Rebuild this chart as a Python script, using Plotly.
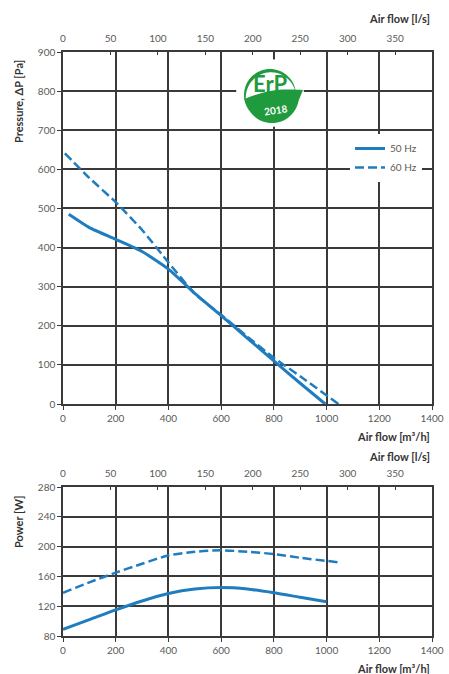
import math
import plotly.graph_objects as go

# ---------------- data ----------------
flow_p50 = [22, 100, 200, 300, 400, 500, 600, 700, 800, 900, 995]
pres_50 = [485, 451, 421, 390, 345, 283, 226, 168, 110, 53, 0]
flow_p60 = [7, 100, 200, 300, 400, 500, 600, 700, 800, 900, 1045]
pres_60 = [641, 578, 516, 445, 362, 282, 228, 172, 118, 71, 0]

flow_w50 = [0, 100, 200, 300, 400, 500, 600, 700, 800, 900, 1000]
power_50 = [89, 102, 115, 127, 137, 143, 145, 143, 138, 132, 126]
flow_w60 = [0, 100, 200, 300, 400, 500, 600, 700, 800, 900, 1045]
power_60 = [138, 152, 165, 177, 188, 193, 195, 193, 190, 185, 179]

m3h_ticks = [0, 200, 400, 600, 800, 1000, 1200, 1400]
ls_ticks = [0, 50, 100, 150, 200, 250, 300, 350]
pa_ticks = [0, 100, 200, 300, 400, 500, 600, 700, 800, 900]
w_ticks = [80, 120, 160, 200, 240, 280]
series_names = ["50 Hz", "60 Hz"]

# ---------------- style ----------------
W, H = 449, 674
BLUE = "#1f7cbf"
GRID = "#3a3a3a"
TICKC = "#5a5a5a"
TITLEC = "#333333"
FONT = "Lato"
GREEN = "#1f9a3c"
DASH = "9px,4px"


def X(px):
    return px / W


def Y(py):
    return 1 - py / H


fig = go.Figure()

fig.add_trace(go.Scatter(x=flow_p50, y=pres_50, name=series_names[0], mode="lines",
                         line=dict(color=BLUE, width=3, shape="spline", smoothing=0.5),
                         xaxis="x", yaxis="y"))
fig.add_trace(go.Scatter(x=flow_p60, y=pres_60, name=series_names[1], mode="lines",
                         line=dict(color=BLUE, width=2.5, dash=DASH, shape="spline", smoothing=0.5),
                         xaxis="x", yaxis="y"))
fig.add_trace(go.Scatter(x=flow_w50, y=power_50, name=series_names[0], mode="lines",
                         line=dict(color=BLUE, width=3, shape="spline", smoothing=0.8),
                         xaxis="x2", yaxis="y2", showlegend=False))
fig.add_trace(go.Scatter(x=flow_w60, y=power_60, name=series_names[1], mode="lines",
                         line=dict(color=BLUE, width=2.5, dash=DASH, shape="spline", smoothing=0.8),
                         xaxis="x2", yaxis="y2", showlegend=False))
# empty traces so the secondary (l/s) axes are drawn
fig.add_trace(go.Scatter(x=ls_ticks, y=[None] * len(ls_ticks), mode="lines", showlegend=False,
                         hoverinfo="skip", xaxis="x3", yaxis="y"))
fig.add_trace(go.Scatter(x=ls_ticks, y=[None] * len(ls_ticks), mode="lines", showlegend=False,
                         hoverinfo="skip", xaxis="x4", yaxis="y2"))

dom_x = [X(63), X(432)]
dom_top = [Y(404), Y(52)]
dom_bot = [Y(636), Y(487)]

common_x = dict(range=[0, 1400], tickvals=m3h_ticks, showgrid=True, gridcolor=GRID, gridwidth=1.5,
                showline=True, linecolor=GRID, linewidth=1.5, mirror=True, zeroline=False,
                ticks="outside", ticklen=4, tickcolor=GRID,
                tickfont=dict(family=FONT, size=10, color=TICKC), fixedrange=True)
common_y = dict(showgrid=True, gridcolor=GRID, gridwidth=1.5,
                showline=True, linecolor=GRID, linewidth=1.5, mirror=True, zeroline=False,
                ticks="outside", ticklen=4, tickcolor=GRID,
                tickfont=dict(family=FONT, size=10, color=TICKC), fixedrange=True)
top_x = dict(range=[0, 1400 / 3.6], tickvals=ls_ticks, showgrid=False, side="top",
             ticks="inside", ticklen=3, tickcolor=GRID, showline=False, zeroline=False,
             ticklabelstandoff=7,
             tickfont=dict(family=FONT, size=10, color=TICKC), fixedrange=True)

fig.update_layout(
    width=W, height=H, margin=dict(l=0, r=0, t=0, b=0, autoexpand=False),
    paper_bgcolor="white", plot_bgcolor="white",
    xaxis=dict(domain=dom_x, anchor="y", **common_x),
    yaxis=dict(domain=dom_top, anchor="x", range=[0, 900], tickvals=pa_ticks, **common_y),
    xaxis2=dict(domain=dom_x, anchor="y2", **common_x),
    yaxis2=dict(domain=dom_bot, anchor="x2", range=[80, 280], tickvals=w_ticks, **common_y),
    xaxis3=dict(domain=dom_x, anchor="y", overlaying="x", **top_x),
    xaxis4=dict(domain=dom_x, anchor="y2", overlaying="x2", **top_x),
    showlegend=True,
    legend=dict(x=X(350), y=Y(134), xanchor="left", yanchor="top", bgcolor="white",
                borderwidth=0, font=dict(family=FONT, size=10, color=TICKC),
                tracegroupgap=2, itemwidth=30),
)

# axis titles
ann = []
title_font = dict(family=FONT, size=11, color=TITLEC)
for txt, py in [("<b>Air flow [l/s]</b>", 18), ("<b>Air flow [m³/h]</b>", 436),
                ("<b>Air flow [l/s]</b>", 456), ("<b>Air flow [m³/h]</b>", 668)]:
    ann.append(dict(text=txt, x=X(432), y=Y(py), xref="paper", yref="paper",
                    xanchor="right", yanchor="middle", showarrow=False, font=title_font))
ann.append(dict(text="<b>Pressure, ΔP [Pa]</b>", x=X(18), y=Y(102), xref="paper", yref="paper",
                xanchor="center", yanchor="middle", textangle=-90, showarrow=False, font=title_font))
ann.append(dict(text="<b>Power [W]</b>", x=X(18), y=Y(522), xref="paper", yref="paper",
                xanchor="center", yanchor="middle", textangle=-90, showarrow=False, font=title_font))

# ErP 2018 logo (decoration)
cx, cy, r = 270, 93, 34
shapes = [dict(type="circle", xref="paper", yref="paper", x0=X(cx - r), x1=X(cx + r),
               y0=Y(cy + r), y1=Y(cy - r), fillcolor="white", line=dict(width=0), layer="above")]


def P(pts):
    s = "M %f,%f" % (X(pts[0][0]), Y(pts[0][1]))
    for p in pts[1:]:
        s += " L %f,%f" % (X(p[0]), Y(p[1]))
    return s


arc = []
for i in range(0, 41):
    a = math.radians(215 - i * 5.2)
    arc.append((cx + 26 * math.cos(a), cy - 26 * math.sin(a) + 2))
arc_in = []
for i in range(40, -1, -1):
    a = math.radians(215 - i * 5.2)
    w = 3.2 * math.sin(math.pi * i / 40) + 0.3
    arc_in.append((cx + (26 - w) * math.cos(a), cy - (26 - w) * math.sin(a) + 2))
shapes.append(dict(type="path", xref="paper", yref="paper", path=P(arc + arc_in) + " Z",
                   fillcolor=GREEN, line=dict(width=0), layer="above"))
leaf = []
for i in range(0, 31):
    a = math.radians(190 + i * 160 / 30)
    leaf.append((cx + 27 * math.cos(a) + 2, cy - 27 * math.sin(a) + 3))
leaf.append((cx + 33, cy - 3))
for i in range(0, 21):
    t = i / 20
    leaf.append((cx + 33 - t * 59, cy - 3 + 9 * t - 4 * math.sin(math.pi * t)))
shapes.append(dict(type="path", xref="paper", yref="paper", path=P(leaf) + " Z",
                   fillcolor=GREEN, line=dict(width=0), layer="above"))

ann.append(dict(text="<b>ErP</b>", x=X(270), y=Y(84), xref="paper", yref="paper",
                xanchor="center", yanchor="middle", showarrow=False,
                font=dict(family=FONT, size=22, color=GREEN)))
ann.append(dict(text="<b>2018</b>", x=X(275), y=Y(110), xref="paper", yref="paper",
                xanchor="center", yanchor="middle", showarrow=False, textangle=-8,
                font=dict(family=FONT, size=10, color="white")))

fig.update_layout(annotations=ann, shapes=shapes)

fig.write_html("out.html", config={"responsive": False, "displayModeBar": False},
               post_script="document.body.style.margin='0';document.body.style.overflow='hidden';")
